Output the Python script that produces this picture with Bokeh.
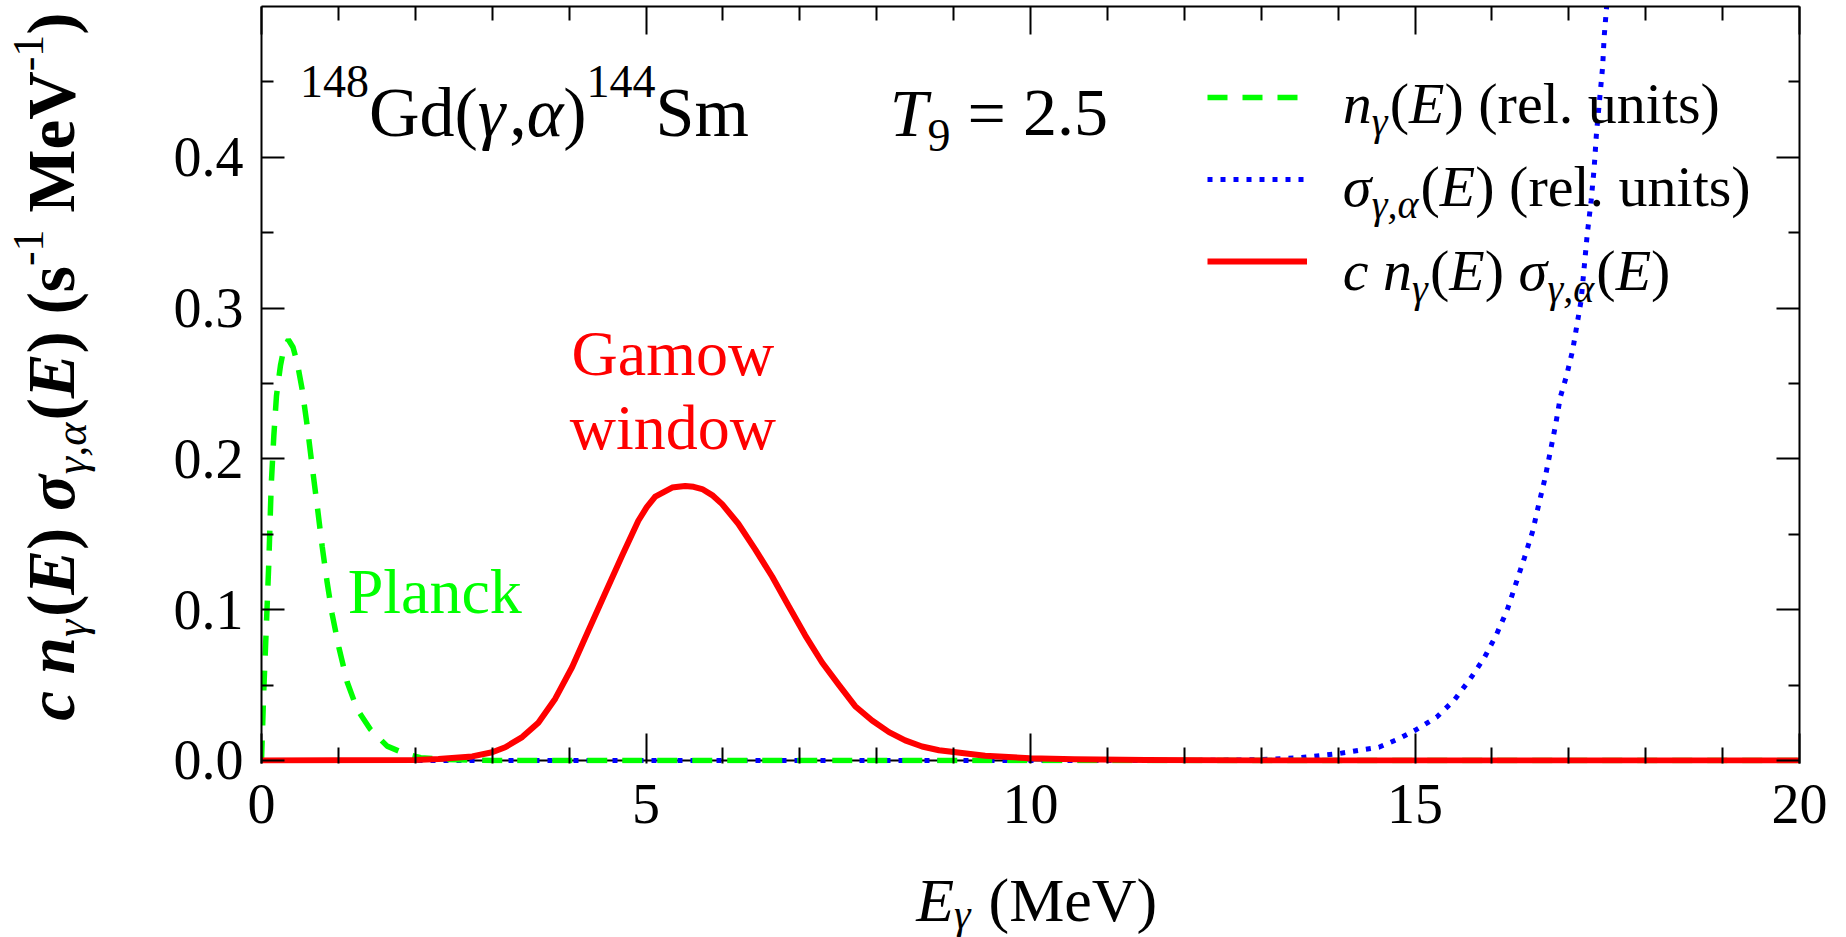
import math

from bokeh.core.properties import value
from bokeh.embed import file_html
from bokeh.layouts import column, row
from bokeh.models import (CustomJSTickFormatter, FixedTicker, Label, Legend,
                          LegendItem, LinearAxis, PrintfTickFormatter, Range1d, Span)
from bokeh.plotting import figure
from bokeh.resources import INLINE

# ---------------------------------------------------------------------------
# Data: 148Gd(gamma,alpha)144Sm at T9 = 2.5
# ---------------------------------------------------------------------------
# Planck photon density n_gamma(E) (relative units)
planck_energy = [0.0, 0.03, 0.06, 0.095, 0.126, 0.16, 0.195, 0.247, 0.29, 0.35,
                 0.41, 0.464, 0.529, 0.594, 0.659, 0.724, 0.789, 0.854, 0.919, 1.006,
                 1.114, 1.244, 1.417, 1.634, 1.894, 2.07, 2.4, 3.0, 20.0]
planck_density = [0.0, 0.047, 0.085, 0.131, 0.182, 0.215, 0.242, 0.262, 0.273, 0.279,
                  0.274, 0.264, 0.246, 0.222, 0.195, 0.169, 0.142, 0.118, 0.097, 0.075,
                  0.052, 0.034, 0.0206, 0.0095, 0.004, 0.0018, 0.0006, 0.0, 0.0]

# Cross section sigma_gamma,alpha(E) (relative units)
sigma_energy = [0.0, 12.0, 12.5, 13.0, 13.5, 14.0, 14.53, 14.79, 15.0, 15.28,
                15.51, 15.71, 15.90, 16.06, 16.20, 16.31, 16.42, 16.53, 16.61, 16.69,
                16.76, 16.83, 16.89, 16.97, 17.05, 17.10, 17.16, 17.20, 17.24, 17.29,
                17.33, 17.36, 17.40, 17.44, 17.46, 17.50]
sigma_values = [0.0, 0.0, 0.0002, 0.0006, 0.0018, 0.0045, 0.0088, 0.0144, 0.020, 0.0287,
                0.040, 0.0535, 0.068, 0.0836, 0.0999, 0.117, 0.134, 0.152, 0.170, 0.187,
                0.205, 0.223, 0.241, 0.255, 0.272, 0.287, 0.305, 0.327, 0.349, 0.371,
                0.393, 0.416, 0.438, 0.460, 0.480, 0.505]

# Integrand c n_gamma(E) sigma_gamma,alpha(E)  (s^-1 MeV^-1) -> Gamow window
gamow_energy = [0.0, 2.0, 2.3, 2.74, 3.0, 3.17, 3.39, 3.60, 3.82, 4.04,
                4.25, 4.47, 4.69, 4.90, 5.01, 5.12, 5.23, 5.34, 5.42, 5.51,
                5.62, 5.73, 5.86, 5.99, 6.20, 6.42, 6.64, 6.86, 7.07, 7.29,
                7.51, 7.72, 7.94, 8.16, 8.37, 8.59, 8.81, 9.41, 9.99, 10.57,
                11.5, 13.0, 20.0]
gamow_rate = [0.0, 0.0003, 0.001, 0.0027, 0.0055, 0.0088, 0.0155, 0.025, 0.041, 0.062,
              0.086, 0.111, 0.136, 0.159, 0.168, 0.175, 0.178, 0.181, 0.1815, 0.182,
              0.1815, 0.180, 0.176, 0.170, 0.157, 0.140, 0.122, 0.102, 0.083, 0.065,
              0.050, 0.036, 0.0265, 0.0188, 0.0133, 0.0093, 0.0068, 0.0031, 0.0015, 0.0008,
              0.0003, 0.0, 0.0]

x_major = [0, 5, 10, 15, 20]
x_minor = [1, 2, 3, 4, 6, 7, 8, 9, 11, 12, 13, 14, 16, 17, 18, 19]
y_major = [0.0, 0.1, 0.2, 0.3, 0.4]
y_minor = [0.05, 0.15, 0.25, 0.35, 0.45]

FONT = "Liberation Serif"
GREEN = "#00ff00"
BLUE = "#0000ff"
RED = "#ff0000"

# ---------------------------------------------------------------------------
# Rich text helper (sub/superscripts built from several labels)
# ---------------------------------------------------------------------------
_W_REGULAR = {
    " ": .25, "(": .333, ")": .333, ".": .25, ",": .25, "-": .333, "=": .564,
    "0": .5, "1": .5, "2": .5, "3": .5, "4": .5, "5": .5, "6": .5, "7": .5, "8": .5, "9": .5,
    "E": .611, "G": .722, "M": .889, "P": .556, "S": .556, "T": .611, "V": .722,
    "a": .444, "c": .444, "d": .5, "e": .444, "i": .278, "k": .5, "l": .278, "m": .778,
    "n": .5, "o": .5, "r": .333, "s": .389, "t": .278, "u": .5, "w": .722,
    "γ": .45, "α": .53, "σ": .55,
}
_W_STYLE = {
    "italic": {"E": .611, "T": .556, "n": .5, "c": .444, "γ": .45, "α": .52, "σ": .5},
    "bold": {"M": .944, "e": .444, "V": .722, "s": .389},
    "bold italic": {"c": .444, "n": .556, "E": .667, "σ": .55},
}
BASE_FIX = 0.30  # lifts the text box so the glyph baseline sits on the anchor


def text_width(text, size, style):
    table = _W_STYLE.get(style, {})
    return sum(table.get(ch, _W_REGULAR.get(ch, 0.5)) for ch in text) * size


def text_label(plot, x, y, text, size, style="normal", color="black", dx=0.0, dy=0.0,
               align="left", vertical=False):
    lift = BASE_FIX * size
    if vertical:
        xo, yo, ang = dx - lift, dy, math.pi / 2
    else:
        xo, yo, ang = dx, dy + lift, 0.0
    plot.add_layout(Label(x=x, y=y, x_offset=xo, y_offset=yo, angle=ang, text=text,
                          text_font=FONT, text_font_size=f"{size}px",
                          text_font_style=style, text_color=color,
                          text_align=align, text_baseline="alphabetic"))


def rich_text(plot, x, y, runs, dx=0.0, dy=0.0, vertical=False, align="left", color="black"):
    widths = [text_width(t, s, st) for t, s, st, _ in runs]
    adv = -sum(widths) / 2 if align == "center" else 0.0
    for (t, s, st, shift), w in zip(runs, widths):
        if t.strip():
            if vertical:
                text_label(plot, x, y, t, s, st, color, dx=dx - shift, dy=dy + adv,
                           vertical=True)
            else:
                text_label(plot, x, y, t, s, st, color, dx=dx + adv, dy=dy + shift)
        adv += w


def text_canvas(w, h):
    f = figure(width=w, height=h, x_range=Range1d(0, w), y_range=Range1d(0, h),
               output_backend="svg", toolbar_location=None, min_border=0,
               x_axis_location=None, y_axis_location=None)
    f.grid.visible = False
    f.outline_line_color = None
    f.background_fill_color = "white"
    f.border_fill_color = "white"
    return f


# ---------------------------------------------------------------------------
# Main figure
# ---------------------------------------------------------------------------
LEFT_W = 110
p = figure(width=1846 - LEFT_W, height=862, x_range=Range1d(0, 20),
           y_range=Range1d(-0.002, 0.5), output_backend="svg", toolbar_location=None,
           min_border_left=261 - LEFT_W, min_border_right=47, min_border_top=6,
           min_border_bottom=99)
p.xgrid.visible = False
p.ygrid.visible = False
p.outline_line_color = None
p.background_fill_color = "white"
p.border_fill_color = "white"


def style_axis(ax, ticks, minor, tick_major, tick_minor):
    ax.ticker = FixedTicker(ticks=ticks, minor_ticks=minor)
    ax.major_tick_in = tick_major
    ax.major_tick_out = 0
    ax.minor_tick_in = tick_minor
    ax.minor_tick_out = 0
    ax.major_tick_line_width = 2
    ax.minor_tick_line_width = 2
    ax.major_tick_line_color = "black"
    ax.minor_tick_line_color = "black"
    ax.axis_line_width = 2
    ax.axis_line_color = "black"
    ax.major_label_text_font = FONT
    ax.major_label_text_font_size = "56px"
    ax.major_label_text_color = "black"
    ax.axis_label = None


xb = p.xaxis[0]
style_axis(xb, x_major, x_minor, 30, 16)
xb.axis_line_color = None
xb.major_label_standoff = 21

yl = p.yaxis[0]
style_axis(yl, y_major, y_minor, 23, 12)
yl.formatter = PrintfTickFormatter(format="%.1f")
yl.major_label_standoff = 18

blank = CustomJSTickFormatter(code="return ''")
xt = LinearAxis()
style_axis(xt, x_major, x_minor, 28, 14)
xt.formatter = blank
xt.major_label_standoff = 0
p.add_layout(xt, "above")

yr = LinearAxis()
style_axis(yr, y_major, y_minor, 23, 11)
yr.formatter = blank
yr.major_label_standoff = 0
p.add_layout(yr, "right")

# zero line of the energy axis, beneath the curves
p.add_layout(Span(location=0, dimension="width", line_color="black", line_width=2,
                  level="underlay"))

# ---------------------------------------------------------------------------
# Curves
# ---------------------------------------------------------------------------
r_sigma = p.line(sigma_energy, sigma_values, line_color=BLUE, line_width=5,
                 line_dash="5 8")
r_planck = p.line(planck_energy, planck_density, line_color=GREEN, line_width=5.5,
                  line_dash="20 15")
r_gamow = p.line(gamow_energy, gamow_rate, line_color=RED, line_width=6,
                 line_join="round")

legend = Legend(items=[LegendItem(label=value(" "), renderers=[r_planck]),
                       LegendItem(label=value(" "), renderers=[r_sigma]),
                       LegendItem(label=value(" "), renderers=[r_gamow])],
                location=(946, 492), orientation="vertical",
                glyph_width=100, glyph_height=20, label_height=20, label_width=1,
                label_standoff=0, spacing=62, padding=0, margin=0,
                border_line_color=None, background_fill_alpha=0,
                label_text_font_size="10px")
p.add_layout(legend)

# ---------------------------------------------------------------------------
# Texts inside the frame
# ---------------------------------------------------------------------------
rich_text(p, 0.5, 0.416, [("148", 46, "normal", 38), ("Gd(", 70, "normal", 0),
                          ("γ", 70, "italic", 0), (",", 70, "normal", 0),
                          ("α", 70, "italic", 0), (")", 70, "normal", 0),
                          ("144", 46, "normal", 38), ("Sm", 70, "normal", 0)])

rich_text(p, 8.17, 0.416, [("T", 68, "italic", 0), ("9", 46, "normal", -16),
                           (" ", 68, "normal", 0), ("=", 68, "normal", 0),
                           (" ", 68, "normal", 0), ("2.5", 68, "normal", 0)])

LF, LS, SUB = 58, 40, -13
rich_text(p, 14.06, 0.4244, [("n", LF, "italic", 0), ("γ", LS, "italic", SUB),
                             ("(", LF, "normal", 0), ("E", LF, "italic", 0),
                             (")", LF, "normal", 0), (" ", LF, "normal", 0),
                             ("(rel. units)", LF, "normal", 0)])
rich_text(p, 14.06, 0.3694, [("σ", LF, "italic", 0), ("γ,α", LS, "italic", SUB),
                             ("(", LF, "normal", 0), ("E", LF, "italic", 0),
                             (")", LF, "normal", 0), (" ", LF, "normal", 0),
                             ("(rel. units)", LF, "normal", 0)])
rich_text(p, 14.06, 0.3137, [("c n", LF, "italic", 0), ("γ", LS, "italic", SUB),
                             ("(", LF, "normal", 0), ("E", LF, "italic", 0),
                             (")", LF, "normal", 0), (" ", LF, "normal", 0),
                             ("σ", LF, "italic", 0), ("γ,α", LS, "italic", SUB),
                             ("(", LF, "normal", 0), ("E", LF, "italic", 0),
                             (")", LF, "normal", 0)])

text_label(p, 5.35, 0.257, "Gamow", 64, color=RED, align="center")
text_label(p, 5.35, 0.208, "window", 64, color=RED, align="center")
text_label(p, 1.12, 0.0995, "Planck", 64, color=GREEN)

# ---------------------------------------------------------------------------
# Axis titles on their own canvases beside / below the frame
# ---------------------------------------------------------------------------
ylab = text_canvas(LEFT_W, 937)
YF, YS = 67, 44
rich_text(ylab, 71, 571, [("c", YF, "bold italic", 0), (" ", YF, "bold", 0),
                          ("n", YF, "bold italic", 0), ("γ", YS, "italic", -13),
                          ("(", YF, "bold", 0), ("E", YF, "bold italic", 0),
                          (")", YF, "bold", 0), (" ", YF, "bold", 0),
                          ("σ", YF, "bold italic", 0), ("γ,α", YS, "italic", -13),
                          ("(", YF, "bold", 0), ("E", YF, "bold italic", 0),
                          (")", YF, "bold", 0), (" ", YF, "bold", 0),
                          ("(s", YF, "bold", 0), ("-1", YS, "normal", 30),
                          (" ", YF, "bold", 0), ("MeV", YF, "bold", 0),
                          ("-1", YS, "normal", 30), (")", YF, "bold", 0)],
          vertical=True, align="center")

XLAB_CENTER = 875  # horizontal centre of the energy-axis title on its canvas
xlab = text_canvas(1846 - LEFT_W, 937 - 862)
rich_text(xlab, XLAB_CENTER, 19, [("E", 62, "italic", 0), ("γ", 42, "italic", -8),
                                  (" ", 62, "normal", 0), ("(MeV)", 62, "normal", 0)],
          align="center")

page = row(ylab, column(p, xlab, spacing=0), spacing=0)
open("out.html", "w").write(file_html(page, INLINE))
